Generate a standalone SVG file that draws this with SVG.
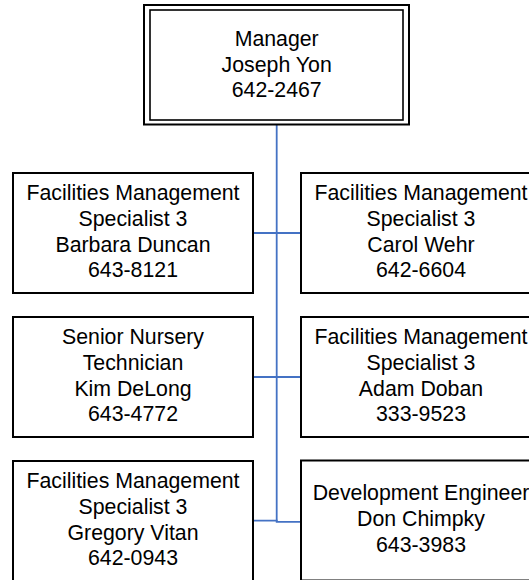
<svg xmlns="http://www.w3.org/2000/svg" width="529" height="580" viewBox="0 0 529 580">
<style>
.box{fill:#fff;stroke:#000;stroke-width:2}
.inner{fill:none;stroke:#000;stroke-width:1.6}
.t{font-family:"Liberation Sans",Arial,sans-serif;font-size:21.3px;fill:#000;text-anchor:middle}
.c{stroke:#4472C4;stroke-width:1.8;fill:none}
</style>
<rect width="529" height="580" fill="#fff"/>
<g id="connectors">
<line class="c" x1="276.7" y1="124.5" x2="276.7" y2="521.5"/>
<line class="c" x1="253" y1="233" x2="301" y2="233"/>
<line class="c" x1="253" y1="377" x2="301" y2="377"/>
<polyline class="c" points="253,520.7 276.7,520.7 276.7,521.8 301,521.8"/>
</g>
<g id="manager">
<rect class="box" x="144" y="5" width="265" height="119.5"/>
<rect class="inner" x="150" y="10" width="253" height="110"/>
<text class="t" x="276.7" y="46.3">Manager</text>
<text class="t" x="276.7" y="71.6">Joseph Yon</text>
<text class="t" x="276.7" y="96.9">642-2467</text>
</g>
<g id="barbara">
<rect class="box" x="13" y="173" width="240" height="120"/>
<text class="t" x="133" y="200.3">Facilities Management</text>
<text class="t" x="133" y="225.9">Specialist 3</text>
<text class="t" x="133" y="251.5">Barbara Duncan</text>
<text class="t" x="133" y="277.1">643-8121</text>
</g>
<g id="carol">
<rect class="box" x="301" y="173" width="240" height="120"/>
<text class="t" x="421" y="200.3">Facilities Management</text>
<text class="t" x="421" y="225.9">Specialist 3</text>
<text class="t" x="421" y="251.5">Carol Wehr</text>
<text class="t" x="421" y="277.1">642-6604</text>
</g>
<g id="kim">
<rect class="box" x="13" y="317" width="240" height="120"/>
<text class="t" x="133" y="344.3">Senior Nursery</text>
<text class="t" x="133" y="369.9">Technician</text>
<text class="t" x="133" y="395.5">Kim DeLong</text>
<text class="t" x="133" y="421.1">643-4772</text>
</g>
<g id="adam">
<rect class="box" x="301" y="317" width="240" height="120"/>
<text class="t" x="421" y="344.3">Facilities Management</text>
<text class="t" x="421" y="369.9">Specialist 3</text>
<text class="t" x="421" y="395.5">Adam Doban</text>
<text class="t" x="421" y="421.1">333-9523</text>
</g>
<g id="gregory">
<rect class="box" x="13" y="461" width="240" height="120"/>
<text class="t" x="133" y="488.3">Facilities Management</text>
<text class="t" x="133" y="513.9">Specialist 3</text>
<text class="t" x="133" y="539.5">Gregory Vitan</text>
<text class="t" x="133" y="565.1">642-0943</text>
</g>
<g id="don">
<rect class="box" x="301" y="460.5" width="240" height="120"/>
<text class="t" x="421" y="500.3">Development Engineer</text>
<text class="t" x="421" y="525.9">Don Chimpky</text>
<text class="t" x="421" y="551.5">643-3983</text>
</g>
</svg>
